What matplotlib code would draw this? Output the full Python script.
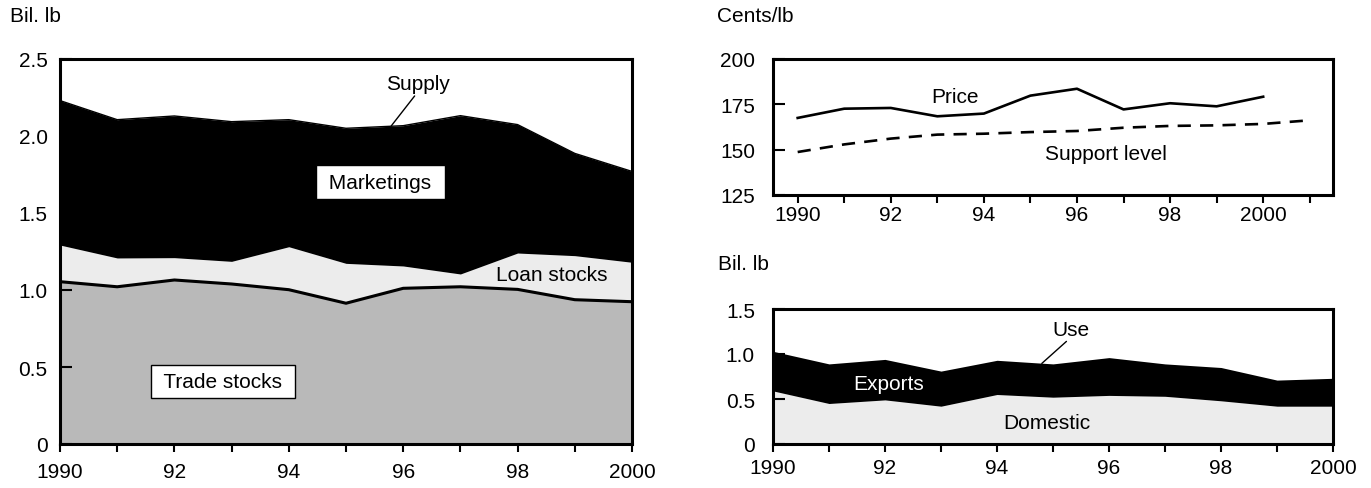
import numpy as np
import matplotlib
matplotlib.use("Agg")
import matplotlib.pyplot as plt

plt.rcParams['font.family'] = ['Liberation Sans', 'DejaVu Sans']
plt.rcParams['font.size'] = 15

# Supply components, bil. lb
years = np.arange(1990, 2001)
trade_stocks = [1.054, 1.021, 1.065, 1.039, 1.002, 0.914, 1.011, 1.021, 1.004, 0.937, 0.924]
loan_stocks = [0.238, 0.187, 0.145, 0.147, 0.279, 0.259, 0.145, 0.083, 0.236, 0.286, 0.256]
marketings = [0.938, 0.898, 0.920, 0.907, 0.825, 0.877, 0.911, 1.028, 0.834, 0.664, 0.590]

# Prices, cents/lb
price_years = np.arange(1990, 2001)
price = [167.5, 172.6, 173.0, 168.4, 169.9, 179.8, 183.6, 172.2, 175.6, 173.9, 179.2]
support_years = np.arange(1990, 2002)
support = [148.7, 152.9, 156.1, 158.3, 158.8, 159.7, 160.3, 162.1, 163.1, 163.4, 164.2, 166.2]

# Use components, bil. lb
domestic = [0.59, 0.45, 0.49, 0.42, 0.55, 0.52, 0.54, 0.53, 0.48, 0.42, 0.42]
exports = [0.44, 0.44, 0.45, 0.39, 0.38, 0.37, 0.42, 0.36, 0.37, 0.29, 0.31]

GRAY = '#b9b9b9'
LIGHT = '#ececec'

W, H = 1371, 489
fig = plt.figure(figsize=(W / 100, H / 100), dpi=100)
ax1 = fig.add_axes([60 / W, 1 - 445 / H, 572 / W, 385 / H])
ax2 = fig.add_axes([773 / W, 1 - 196 / H, 560 / W, 136 / H])
ax3 = fig.add_axes([773 / W, 1 - 445 / H, 560 / W, 135 / H])


def year_labels(yrs):
    out = []
    for y in yrs:
        if y in (1990, 2000):
            out.append(str(y))
        elif y % 2 == 0:
            out.append(f'{y % 100:02d}')
        else:
            out.append('')
    return out


def style(ax, ypad, xpad):
    for s in ax.spines.values():
        s.set_linewidth(2.2)
    ax.tick_params(axis='y', direction='in', length=8.5, width=1.5, pad=ypad,
                   right=False, labelsize=15)
    ax.tick_params(axis='x', direction='out', length=6, width=1.5, pad=xpad,
                   top=False, labelsize=15)


def leader(ax, start, end):
    # thin pointer line from a label down to the series edge
    ax.annotate('', xy=end, xytext=start,
                arrowprops=dict(arrowstyle='-', color='black', lw=1,
                                shrinkA=0, shrinkB=0))


# left panel: stacked supply
t = np.array(trade_stocks)
tl = t + np.array(loan_stocks)
supply = tl + np.array(marketings)
ax1.fill_between(years, 0, t, color=GRAY, lw=0)
ax1.fill_between(years, t, tl, color=LIGHT, lw=0)
ax1.fill_between(years, tl, supply, color='black', lw=0)
ax1.plot(years, t, color='black', lw=2.2)
ax1.plot(years, supply, color='black', lw=1)
ax1.set_xlim(1990, 2000)
ax1.set_ylim(0, 2.5)
ax1.set_yticks([0, 0.5, 1.0, 1.5, 2.0, 2.5])
ax1.set_yticklabels(['0', '0.5', '1.0', '1.5', '2.0', '2.5'])
ax1.set_xticks(years)
ax1.set_xticklabels(year_labels(years))
style(ax1, 9, 7)

box = dict(boxstyle='square,pad=0.35', fc='white', ec='black', lw=1)
ax1.text(1995.6, 1.70, ' Marketings ', ha='center', va='center', bbox=box)
ax1.text(1992.85, 0.406, ' Trade stocks ', ha='center', va='center', bbox=box)
ax1.text(1998.6, 1.10, 'Loan stocks', ha='center', va='center')
ax1.text(1996.25, 2.343, 'Supply', ha='center', va='center')
leader(ax1, (1996.2, 2.26), (1995.79, 2.065))
fig.text(10 / W, 1 - 16 / H, 'Bil. lb', ha='left', va='center', fontsize=15)

# top right: price vs support level
ax2.plot(price_years, price, color='black', lw=1.9)
ax2.plot(support_years, support, color='black', lw=1.9, dashes=(5, 3.5))
ax2.set_xlim(1989.47, 2001.5)
ax2.set_ylim(125, 200)
ax2.set_yticks([125, 150, 175, 200])
ax2.set_xticks(support_years)
ax2.set_xticklabels(year_labels(support_years))
style(ax2, 13, 1)
ax2.text(1993.38, 179.3, 'Price', ha='center', va='center')
ax2.text(1996.62, 148.0, 'Support level', ha='center', va='center')
fig.text(717 / W, 1 - 17 / H, 'Cents/lb', ha='left', va='center', fontsize=15)

# bottom right: stacked use
d = np.array(domestic)
use = d + np.array(exports)
ax3.fill_between(years, 0, d, color=LIGHT, lw=0)
ax3.fill_between(years, d, use, color='black', lw=0)
ax3.set_xlim(1990, 2000)
ax3.set_ylim(0, 1.5)
ax3.set_yticks([0, 0.5, 1.0, 1.5])
ax3.set_yticklabels(['0', '0.5', '1.0', '1.5'])
ax3.set_xticks(years)
ax3.set_xticklabels(year_labels(years))
style(ax3, 13, 4)
ax3.text(1992.07, 0.667, 'Exports', ha='center', va='center', color='white')
ax3.text(1994.89, 0.244, 'Domestic', ha='center', va='center')
ax3.text(1995.32, 1.275, 'Use', ha='center', va='center')
leader(ax3, (1995.24, 1.14), (1994.8, 0.895))
fig.text(718 / W, 1 - 265 / H, 'Bil. lb', ha='left', va='center', fontsize=15)

fig.savefig('out.png', dpi=100)
